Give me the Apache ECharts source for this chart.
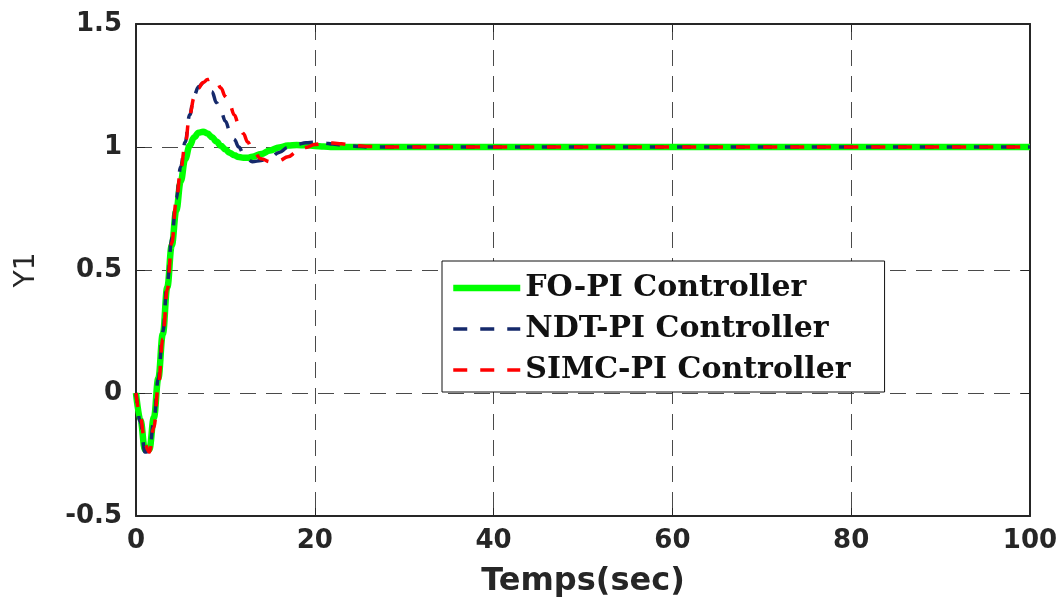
<!DOCTYPE html>
<html>
<head>
<meta charset="utf-8">
<title>Y1 step response</title>
<script src="https://cdn.jsdelivr.net/npm/echarts@6/dist/echarts.min.js"></script>
<style>
  html, body { margin: 0; padding: 0; background: #ffffff; }
  #chart { width: 1061px; height: 597px; }
</style>
</head>
<body>
<div id="chart"></div>
<script>
// Simulation time samples (s)
const time = [0, 0.5, 1, 1.5, 2, 2.5, 3, 3.5, 4, 4.5, 5, 5.5, 6, 6.5, 7, 7.5, 8, 8.5, 9, 9.5,
  10, 10.5, 11, 11.5, 12, 12.5, 13, 14, 15, 16, 17, 18, 19, 20, 21, 22, 23, 24, 25, 26, 28,
  30, 40, 50, 60, 70, 80, 90, 100];

// Output Y1 for each controller
const foPI = [0, -0.11, -0.23, -0.228, -0.1, 0.06, 0.24, 0.43, 0.6, 0.74, 0.86, 0.95, 1.005, 1.04, 1.058, 1.062,
  1.055, 1.04, 1.022, 1.005, 0.99, 0.976, 0.966, 0.959, 0.956, 0.956, 0.96, 0.972, 0.986, 0.998,
  1.006, 1.008, 1.007, 1.004, 1.002, 1.0, 1.0, 1.0, 1.0, 1.0, 1.0, 1.0, 1.0, 1.0, 1.0, 1.0, 1.0, 1.0, 1.0];
const ndtPI = [0, -0.12, -0.24, -0.238, -0.11, 0.06, 0.25, 0.45, 0.63, 0.79, 0.92, 1.02, 1.13, 1.21, 1.245, 1.26,
  1.258, 1.225, 1.18, 1.145, 1.105, 1.065, 1.03, 1.0, 0.975, 0.95, 0.94, 0.945, 0.957, 0.978,
  0.998, 1.01, 1.017, 1.019, 1.016, 1.012, 1.008, 1.004, 1.002, 1.0, 1.0, 1.0, 1.0, 1.0, 1.0, 1.0, 1.0, 1.0, 1.0];
const simcPI = [0, -0.1, -0.21, -0.24, -0.14, 0.03, 0.22, 0.42, 0.61, 0.78, 0.91, 1.01, 1.13, 1.2, 1.24, 1.262,
  1.274, 1.278, 1.268, 1.24, 1.205, 1.17, 1.13, 1.09, 1.055, 1.02, 0.99, 0.952, 0.94, 0.945,
  0.96, 0.98, 0.998, 1.01, 1.016, 1.016, 1.013, 1.009, 1.005, 1.002, 1.0, 1.0, 1.0, 1.0, 1.0, 1.0, 1.0, 1.0, 1.0];

const seriesNames = ['FO-PI Controller', 'NDT-PI Controller', 'SIMC-PI Controller'];
const seriesColors = ['#00ff00', '#15296b', '#ff0000'];

const pairs = (ys) => time.map((t, i) => [t, ys[i]]);

const axisFont = { fontFamily: 'DejaVu Sans', fontWeight: 'bold', fontSize: 26, color: '#262626' };
const gridLine = { show: true, lineStyle: { color: '#4a4a4a', width: 1, type: [16, 10] } };
const solidStyle = { color: seriesColors[0], width: 6.5 };
const dashStyle = (c, off) => ({ color: c, width: 3.5, type: [14, 13], dashOffset: off });

const chart = echarts.init(document.getElementById('chart'), null, { renderer: 'canvas' });
chart.setOption({
  backgroundColor: '#ffffff',
  animation: false,
  grid: { left: 136, right: 31, top: 24, bottom: 81, containLabel: false, outerBoundsMode: 'none' },
  legend: {
    orient: 'vertical',
    left: 442,
    top: 261,
    padding: [12, 34, 7, 8],
    itemWidth: 67,
    itemHeight: 14,
    itemGap: 11,
    backgroundColor: '#ffffff',
    borderColor: '#111111',
    borderWidth: 1,
    borderRadius: 0,
    itemStyle: { opacity: 0 },
    textStyle: { fontFamily: 'DejaVu Serif', fontWeight: 'bold', fontSize: 30, color: '#111111' },
    data: [
      { name: seriesNames[0], lineStyle: solidStyle },
      { name: seriesNames[1], lineStyle: dashStyle(seriesColors[1], 0) },
      { name: seriesNames[2], lineStyle: dashStyle(seriesColors[2], 0) }
    ]
  },
  xAxis: [{
    type: 'value', min: 0, max: 100, interval: 20,
    name: 'Temps(sec)', nameLocation: 'middle', nameGap: 50,
    nameTextStyle: { fontFamily: 'DejaVu Sans', fontWeight: 'bold', fontSize: 32, color: '#262626' },
    axisLine: { show: true, onZero: false, lineStyle: { color: '#262626', width: 2 } },
    axisTick: { show: true, inside: true, length: 8, lineStyle: { color: '#262626', width: 1 } },
    axisLabel: Object.assign({ margin: 12 }, axisFont),
    splitLine: gridLine
  }, {
    type: 'value', min: 0, max: 100, interval: 20, position: 'top',
    axisLine: { show: true, onZero: false, lineStyle: { color: '#262626', width: 2 } },
    axisTick: { show: true, inside: true, length: 8, lineStyle: { color: '#262626', width: 1 } },
    axisLabel: { show: false }, splitLine: { show: false }
  }],
  yAxis: [{
    type: 'value', min: -0.5, max: 1.5, interval: 0.5,
    name: 'Y1', nameLocation: 'middle', nameGap: 95, nameRotate: 90,
    nameTextStyle: { fontFamily: 'DejaVu Sans', fontSize: 28, color: '#262626' },
    axisLine: { show: true, onZero: false, lineStyle: { color: '#262626', width: 2 } },
    axisTick: { show: true, inside: true, length: 9, lineStyle: { color: '#262626', width: 1 } },
    axisLabel: Object.assign({ margin: 14 }, axisFont),
    splitLine: gridLine
  }, {
    type: 'value', min: -0.5, max: 1.5, interval: 0.5, position: 'right',
    axisLine: { show: true, onZero: false, lineStyle: { color: '#262626', width: 2 } },
    axisTick: { show: true, inside: true, length: 9, lineStyle: { color: '#262626', width: 1 } },
    axisLabel: { show: false }, splitLine: { show: false }
  }],
  series: [{
    name: seriesNames[0], type: 'line', data: pairs(foPI),
    symbol: 'none', smooth: 0.4, smoothMonotone: 'x', z: 2,
    lineStyle: solidStyle, itemStyle: { color: seriesColors[0] }
  }, {
    name: seriesNames[1], type: 'line', data: pairs(ndtPI),
    symbol: 'none', smooth: 0.4, smoothMonotone: 'x', z: 3,
    lineStyle: dashStyle(seriesColors[1], 4), itemStyle: { color: seriesColors[1] }
  }, {
    name: seriesNames[2], type: 'line', data: pairs(simcPI),
    symbol: 'none', smooth: 0.4, smoothMonotone: 'x', z: 4,
    lineStyle: dashStyle(seriesColors[2], 0), itemStyle: { color: seriesColors[2] }
  }]
});
</script>
</body>
</html>
